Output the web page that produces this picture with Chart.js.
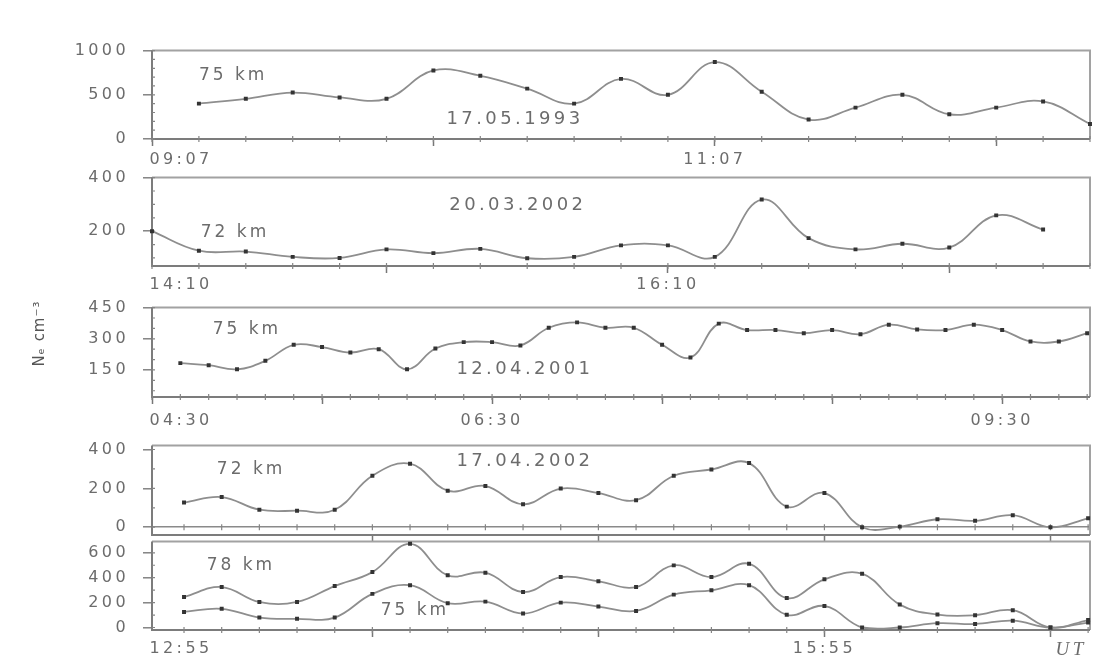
<!DOCTYPE html>
<html>
<head>
<meta charset="utf-8">
<script src="https://cdn.jsdelivr.net/npm/chart.js@4.4.1/dist/chart.umd.min.js"></script>
<style>
  html, body { margin: 0; padding: 0; background: #fff; }
  #wrap { position: relative; width: 1095px; height: 663px; overflow: hidden; background: #fff; }
  #wrap canvas { position: absolute; left: 0; }
</style>
</head>
<body>
<div id="wrap"></div>
<script>
// Electron density (cm^-3) sampled every 10 minutes, one panel per sounding.
const may1993_75km = [400, 455, 525, 470, 455, 775, 715, 570, 400, 680, 500, 870, 535, 220, 355, 500, 280, 355, 425, 170];
const mar2002_72km = [200, 127, 124, 104, 100, 132, 118, 134, 99, 104, 147, 147, 104, 318, 174, 132, 153, 139, 259, 206];
const apr2001_75km = [183, 173, 153, 194, 271, 260, 234, 250, 153, 253, 284, 284, 268, 353, 379, 353, 353, 271, 210, 373,
                      342, 342, 327, 342, 322, 368, 345, 342, 368, 342, 287, 287, 327];
const apr2002_72km = [127, 155, 90, 85, 90, 265, 327, 188, 212, 118, 199, 176, 139, 265, 297, 330, 106, 176, 0, 3, 41, 33, 62, 0, 46];
const apr2002_78km = [245, 325, 205, 205, 333, 445, 672, 419, 440, 285, 405, 371, 325, 499, 405, 512, 237, 387, 432, 184, 104, 99, 139, 0, 60];
const apr2002_75km = [125, 150, 80, 70, 80, 270, 340, 195, 208, 112, 200, 168, 133, 264, 299, 340, 102, 173, 0, 0, 35, 28, 55, 0, 40];

// Value-axis tick labels
const yTicks1 = [0, 500, 1000];
const yTicks2 = [200, 400];
const yTicks3 = [150, 300, 450];
const yTicks4 = [0, 200, 400];
const yTicks5 = [0, 200, 400, 600];

// Time labels (UT) and the sample index they sit at
const timeLabels1 = ['09:07', '11:07'];           const timeLabelAt1 = [-1, 11];
const timeLabels2 = ['14:10', '16:10'];           const timeLabelAt2 = [0, 11];
const timeLabels3 = ['04:30', '06:30', '09:30'];  const timeLabelAt3 = [-1, 11, 29];
const timeLabels5 = ['12:55', '15:55', 'UT'];     const timeLabelAt5 = [-0.85, 17, 23.55];

// Hourly tick marks (sample index)
const hourTicks1 = [-1, 5, 11, 17];
const hourTicks2 = [5, 11, 17];
const hourTicks3 = [-1, 5, 11, 17, 23, 29];
const hourTicks4 = [5, 11, 17, 23];
const hourTicks5 = [5, 11, 17, 23];

Chart.defaults.font.family = '"DejaVu Sans", sans-serif';

const PAD_TOP = 20;
const X_AXIS_H = 40;
const AXIS_W = 152;
const PLOT_W = 938;
const EDGE_LABEL_INSET = 29;   // px: the first time label starts at the axis rather than centring on it
const TEXT = '#6c6c6c';

const panels = [
  { top: 47, bottom: 139, xMin: -1, xMax: 19, yMin: 0, yMax: 1000, yTicks: yTicks1, yMinor: 100,
    series: [may1993_75km], labels: timeLabels1, labelAt: timeLabelAt1, hours: hourTicks1, labelPad: 4,
    notes: [{ text: '75 km', x: 0.73, y: 717 }, { text: '17.05.1993', x: 6.74, y: 228, big: true }] },
  { top: 174, bottom: 266, xMin: 0, xMax: 20, yMin: 70, yMax: 400, yTicks: yTicks2, yMinor: 50,
    series: [mar2002_72km], labels: timeLabels2, labelAt: timeLabelAt2, hours: hourTicks2, labelPad: 2,
    notes: [{ text: '72 km', x: 1.77, y: 196 }, { text: '20.03.2002', x: 7.8, y: 296, big: true }] },
  { top: 304, bottom: 397, xMin: -1, xMax: 32.1, yMin: 20, yMax: 450, yTicks: yTicks3, yMinor: 50,
    series: [apr2001_75km], labels: timeLabels3, labelAt: timeLabelAt3, hours: hourTicks3, labelPad: 7,
    notes: [{ text: '75 km', x: 2.35, y: 344 }, { text: '12.04.2001', x: 12.16, y: 154, big: true }],
    title: 'Nₑ cm⁻³' },
  { top: 442, bottom: 535, xMin: -0.85, xMax: 24.05, yMin: -40, yMax: 420, yTicks: yTicks4, yMinor: 100,
    series: [apr2002_72km], labels: [], labelAt: [], hours: hourTicks4, labelPad: 2, zeroLine: true,
    notes: [{ text: '72 km', x: 1.78, y: 296 }, { text: '17.04.2002', x: 9.05, y: 341, big: true }] },
  { top: 538, bottom: 630, xMin: -0.85, xMax: 24.05, yMin: -20, yMax: 690, yTicks: yTicks5, yMinor: 100,
    series: [apr2002_78km, apr2002_75km], labels: timeLabels5, labelAt: timeLabelAt5, hours: hourTicks5, labelPad: 2,
    notes: [{ text: '78 km', x: 1.51, y: 497 }, { text: '75 km', x: 6.13, y: 134 }] }
];

function buildXTicks(p) {
  const unit = PLOT_W / (p.xMax - p.xMin);
  const list = p.hours.map(v => ({ value: v, text: '', major: true }));
  p.labels.forEach((txt, k) => {
    let v = p.labelAt[k];
    if (Math.abs(v - p.xMin) < 1e-6) v = p.xMin + EDGE_LABEL_INSET / unit;
    const hit = list.find(t => Math.abs(t.value - v) < 1e-6);
    if (hit) hit.text = txt;
    else list.push({ value: v, text: txt, major: false });
  });
  list.sort((a, b) => a.value - b.value);
  return list;
}

function decorPlugin(p) {
  return {
    id: 'decor',
    beforeDraw(chart) {
      chart.ctx.letterSpacing = '3.4px';
    },
    beforeDatasetsDraw(chart) {
      const { ctx, chartArea: a, scales: { x, y } } = chart;
      ctx.save();
      ctx.letterSpacing = '0px';
      // frame
      ctx.lineWidth = 2;
      ctx.strokeStyle = '#a2a2a2';
      ctx.beginPath();
      ctx.moveTo(a.left, a.top); ctx.lineTo(a.right, a.top); ctx.lineTo(a.right, a.bottom);
      ctx.stroke();
      ctx.strokeStyle = '#7c7c7c';
      ctx.beginPath();
      ctx.moveTo(a.right, a.bottom); ctx.lineTo(a.left, a.bottom); ctx.lineTo(a.left, a.top);
      ctx.stroke();
      // ten-minute marks along the time baseline
      const baseY = p.zeroLine ? y.getPixelForValue(0) : a.bottom;
      ctx.lineWidth = 1.2;
      ctx.strokeStyle = '#858585';
      ctx.beginPath();
      for (let i = Math.ceil(p.xMin); i <= Math.floor(p.xMax); i++) {
        const px = x.getPixelForValue(i);
        ctx.moveTo(px, baseY - 3); ctx.lineTo(px, baseY + 3);
      }
      // minor marks on the value axis
      for (let v = Math.ceil(p.yMin / p.yMinor) * p.yMinor; v <= p.yMax; v += p.yMinor) {
        const py = y.getPixelForValue(v);
        ctx.moveTo(a.left, py); ctx.lineTo(a.left + 3, py);
      }
      ctx.stroke();
      ctx.restore();
    },
    afterDatasetsDraw(chart) {
      const { ctx, chartArea: a, scales: { x, y } } = chart;
      ctx.save();
      ctx.fillStyle = TEXT;
      ctx.textAlign = 'center';
      ctx.textBaseline = 'middle';
      p.notes.forEach(n => {
        ctx.font = (n.big ? '18px' : '17px') + ' "DejaVu Sans"';
        ctx.letterSpacing = n.big ? '3.4px' : '3px';
        ctx.fillText(n.text, x.getPixelForValue(n.x), y.getPixelForValue(n.y));
      });
      if (p.title) {
        ctx.translate(a.left - 112, a.top + 26);
        ctx.rotate(-Math.PI / 2);
        ctx.font = '15px "DejaVu Sans"';
        ctx.letterSpacing = '1px';
        ctx.fillStyle = '#555';
        ctx.fillText(p.title, 0, 0);
      }
      ctx.restore();
    }
  };
}

const wrap = document.getElementById('wrap');
panels.forEach(p => {
  const canvas = document.createElement('canvas');
  const h = PAD_TOP + (p.bottom - p.top) + X_AXIS_H;
  canvas.width = 1095;
  canvas.height = h;
  canvas.style.width = '1095px';
  canvas.style.height = h + 'px';
  canvas.style.top = (p.top - PAD_TOP) + 'px';
  wrap.appendChild(canvas);

  const xTicks = buildXTicks(p);

  new Chart(canvas, {
    type: 'line',
    data: {
      datasets: p.series.map(values => ({
        data: values.map((v, i) => ({ x: i, y: v })),
        borderColor: '#8e8e8e',
        borderWidth: 1.8,
        tension: 0.4,
        pointStyle: 'rect',
        pointRadius: 2.8,
        pointBackgroundColor: '#333',
        pointBorderWidth: 0,
        clip: 6
      }))
    },
    options: {
      responsive: false,
      animation: false,
      devicePixelRatio: 1,
      layout: { padding: { top: PAD_TOP, right: 5, left: 0, bottom: 0 } },
      plugins: { legend: { display: false }, tooltip: { enabled: false } },
      scales: {
        x: {
          type: 'linear',
          min: p.xMin,
          max: p.xMax,
          afterFit: s => { s.height = X_AXIS_H; },
          afterBuildTicks: s => { s.ticks = xTicks.map(t => ({ value: t.value })); },
          border: { display: false },
          grid: {
            drawOnChartArea: false,
            tickLength: 7,
            tickWidth: 1.5,
            tickColor: c => (xTicks[c.index] && xTicks[c.index].major) ? '#777' : 'rgba(0,0,0,0)'
          },
          ticks: {
            autoSkip: false,
            maxRotation: 0,
            padding: p.labelPad,
            color: TEXT,
            font: c => (xTicks[c.index] && xTicks[c.index].text === 'UT')
              ? { family: '"Liberation Serif", serif', size: 19, style: 'italic' }
              : { family: '"DejaVu Sans"', size: 16 },
            callback: (v, i) => xTicks[i] ? xTicks[i].text : ''
          }
        },
        y: {
          type: 'linear',
          min: p.yMin,
          max: p.yMax,
          afterFit: s => { s.width = AXIS_W; },
          afterBuildTicks: s => { s.ticks = p.yTicks.map(v => ({ value: v })); },
          border: { display: false },
          grid: {
            drawOnChartArea: !!p.zeroLine,
            color: c => (c.tick && c.tick.value === 0) ? '#8a8a8a' : 'rgba(0,0,0,0)',
            lineWidth: 1.6,
            tickLength: 9,
            tickColor: '#7a7a7a',
            tickWidth: 1.4
          },
          ticks: {
            padding: 14,
            color: TEXT,
            font: { family: '"DejaVu Sans"', size: 16 },
            callback: v => String(v)
          }
        }
      }
    },
    plugins: [decorPlugin(p)]
  });
});
</script>
</body>
</html>
